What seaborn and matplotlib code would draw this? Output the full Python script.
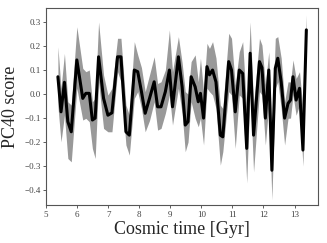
import numpy as np
import pandas as pd
import seaborn as sns
import matplotlib.pyplot as plt

# PC40 score vs cosmic time
time = [5.38, 5.48, 5.59, 5.70, 5.81, 5.99, 6.18, 6.28, 6.39, 6.49,
        6.58, 6.69, 6.85, 6.99, 7.12, 7.30, 7.41, 7.57, 7.68, 7.84,
        7.95, 8.07, 8.19, 8.33, 8.48, 8.59, 8.70, 8.84, 8.97, 9.07,
        9.26, 9.38, 9.48, 9.57, 9.67, 9.80, 9.90, 9.97, 10.07, 10.18,
        10.26, 10.36, 10.47, 10.61, 10.69, 10.88, 10.97, 11.09, 11.22, 11.33,
        11.46, 11.57, 11.68, 11.87, 11.95, 12.06, 12.17, 12.27, 12.38, 12.46,
        12.57, 12.68, 12.79, 12.87, 12.95, 13.05, 13.16, 13.27, 13.38]
score = [0.072, -0.074, 0.049, -0.115, -0.157, 0.142, -0.018, 0.003, 0.003, -0.108,
         -0.100, 0.155, -0.018, -0.088, -0.078, 0.155, 0.155, -0.157, -0.171, 0.100,
         0.093, 0.010, -0.080, -0.018, 0.051, -0.053, -0.053, 0.010, 0.100, -0.053,
         0.155, 0.030, -0.129, -0.115, 0.072, 0.030, -0.032, 0.003, -0.100, 0.114,
         0.080, 0.100, 0.050, -0.171, -0.178, 0.135, 0.100, -0.074, 0.100, 0.086,
         -0.226, 0.170, -0.171, 0.135, 0.110, -0.100, 0.100, -0.317, 0.107, 0.149,
         0.050, -0.100, -0.039, -0.025, 0.072, -0.025, 0.024, -0.233, 0.267]
upper = [0.197, 0.024, 0.169, -0.032, -0.046, 0.280, 0.107, 0.093, 0.100, -0.032,
         -0.018, 0.300, 0.079, -0.004, 0.024, 0.232, 0.232, -0.046, -0.088, 0.218,
         0.163, 0.110, 0.010, 0.080, 0.155, 0.044, 0.051, 0.100, 0.267, 0.093,
         0.239, 0.130, 0.010, 0.000, 0.135, 0.163, 0.051, 0.149, 0.010, 0.211,
         0.190, 0.218, 0.150, -0.046, -0.060, 0.253, 0.232, 0.037, 0.176, 0.218,
         -0.070, 0.300, -0.046, 0.232, 0.204, 0.040, 0.176, -0.157, 0.232, 0.239,
         0.149, -0.032, 0.051, 0.050, 0.142, 0.065, 0.093, -0.060, 0.330]
lower = [-0.050, -0.199, -0.088, -0.268, -0.282, 0.024, -0.108, -0.101, -0.115, -0.226,
         -0.268, 0.051, -0.143, -0.157, -0.157, 0.093, 0.051, -0.212, -0.254, -0.018,
         0.010, -0.060, -0.157, -0.110, -0.032, -0.150, -0.143, -0.080, -0.004, -0.129,
         0.024, -0.080, -0.240, -0.200, -0.032, -0.101, -0.136, -0.101, -0.212, 0.024,
         0.010, -0.004, -0.060, -0.296, -0.240, 0.010, -0.004, -0.226, -0.004, -0.018,
         -0.370, 0.024, -0.324, 0.010, -0.004, -0.212, -0.046, -0.440, 0.024, 0.051,
         -0.060, -0.212, -0.101, -0.100, -0.004, -0.088, -0.046, -0.300, 0.218]

df = pd.DataFrame({"time": time, "score": score, "upper": upper, "lower": lower})

sns.set_style("ticks")
plt.rcParams["font.family"] = ["Liberation Serif", "DejaVu Serif"]

fig = plt.figure(figsize=(3.27, 2.43), dpi=100)
ax = fig.add_axes([0.141, 0.156, 0.831, 0.811])

ax.fill_between(df["time"], df["lower"], df["upper"], color="#999999", lw=0)
sns.lineplot(data=df, x="time", y="score", color="black", lw=2.2, ax=ax)

ax.set_xlim(5, 13.75)
ax.set_ylim(-0.462, 0.358)
ax.set_xticks(range(5, 14))
ax.set_yticks([-0.4, -0.3, -0.2, -0.1, 0.0, 0.1, 0.2, 0.3])
ax.set_yticklabels(["\u22120.4", "\u22120.3", "\u22120.2", "\u22120.1", "0.0", "0.1", "0.2", "0.3"])
ax.tick_params(labelsize=6.5, length=2, width=0.6, colors="#444444", pad=2)
for s in ax.spines.values():
    s.set_color("#555555")
    s.set_linewidth(0.8)
ax.set_xlabel("Cosmic time [Gyr]", fontsize=13, labelpad=2)
ax.set_ylabel("PC40 score", fontsize=13, labelpad=4)

fig.savefig("out.png", dpi=100)
